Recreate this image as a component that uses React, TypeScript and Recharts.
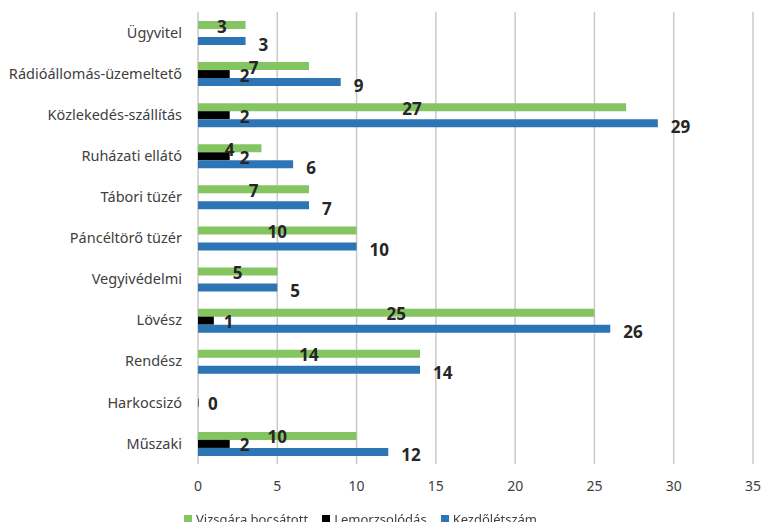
import { BarChart, Bar, XAxis, YAxis, CartesianGrid, Legend, LabelList } from 'recharts';

const categories = [
  'Ügyvitel',
  'Rádióállomás-üzemeltető',
  'Közlekedés-szállítás',
  'Ruházati ellátó',
  'Tábori tüzér',
  'Páncéltörő tüzér',
  'Vegyivédelmi',
  'Lövész',
  'Rendész',
  'Harkocsizó',
  'Műszaki',
];
const vizsgara = [3, 7, 27, 4, 7, 10, 5, 25, 14, null, 10];
const lemorzsolodas = [null, 2, 2, 2, null, null, null, 1, null, 0, 2];
const kezdo = [3, 9, 29, 6, 7, 10, 5, 26, 14, null, 12];
const xTicks = [0, 5, 10, 15, 20, 25, 30, 35];
const seriesNames = ['Vizsgára bocsátott', 'Lemorzsolódás', 'Kezdőlétszám'];

const data = categories.map((name, i) => ({
  name,
  vizsgara: vizsgara[i],
  lemorzsolodas: lemorzsolodas[i],
  kezdo: kezdo[i],
}));

const labelFont = { fill: '#262626', fontSize: 17, fontWeight: 700, fontFamily: 'Open Sans' };

// draws the value as text next to / on the bar, also for 0
const makeLabel = (pos: 'center' | 'right', offset: number, dy: number) => (props: any) => {
  const { x, y, width, height, value } = props;
  if (value === null || value === undefined) return null;
  const w = value === 0 ? 0 : Number(width);
  const cx = pos === 'center' ? Number(x) + w / 2 : Number(x) + w + offset;
  return (
    <text
      x={cx}
      y={Number(y) + Number(height) / 2 + dy}
      textAnchor={pos === 'center' ? 'middle' : 'start'}
      dominantBaseline="central"
      {...labelFont}
    >
      {value}
    </text>
  );
};

const renderLegend = (props: any) => {
  const items = [...(props.payload || [])].sort(
    (a: any, b: any) => seriesNames.indexOf(a.value) - seriesNames.indexOf(b.value)
  );
  return (
    <div style={{ display: 'flex', gap: 14, fontFamily: 'Noto Sans', fontSize: 13, color: '#404040' }}>
      {items.map((it: any) => (
        <div key={it.value} style={{ display: 'flex', alignItems: 'center' }}>
          <span style={{ width: 8, height: 8, background: it.color, marginRight: 4 }} />
          <span>{it.value}</span>
        </div>
      ))}
    </div>
  );
};

export default function App() {
  return (
    <div style={{ position: 'fixed', left: 0, top: 0, width: 765, height: 522, background: '#fff' }}>
      <BarChart
        width={765}
        height={530}
        data={data}
        layout="vertical"
        margin={{ top: 12, right: 12, left: 0, bottom: 0 }}
        barGap={0}
      >
        <CartesianGrid horizontal={false} stroke="#c9c9c9" strokeWidth={1.5} />
        <XAxis
          type="number"
          domain={[0, 35]}
          ticks={xTicks}
          tickLine={false}
          axisLine={false}
          tickMargin={11}
          height={48}
          tick={{ fill: '#404040', fontSize: 14, fontFamily: 'Noto Sans' }}
        />
        <YAxis
          type="category"
          dataKey="name"
          width={198}
          tickLine={false}
          axisLine={false}
          tickMargin={10}
          interval={0}
          tick={{ fill: '#404040', fontSize: 14.5, fontFamily: 'Noto Sans' }}
        />
        <Legend
          verticalAlign="bottom"
          align="left"
          content={renderLegend}
          wrapperStyle={{ left: 184, bottom: 2 }}
        />
        <Bar dataKey="vizsgara" name={seriesNames[0]} fill="#84c461" barSize={8} isAnimationActive={false}>
          <LabelList dataKey="vizsgara" content={makeLabel('center', 0, 1)} />
        </Bar>
        <Bar
          dataKey="lemorzsolodas"
          name={seriesNames[1]}
          fill="#000000"
          barSize={8}
          minPointSize={0.5}
          isAnimationActive={false}
        >
          <LabelList dataKey="lemorzsolodas" content={makeLabel('right', 10, 1)} />
        </Bar>
        <Bar dataKey="kezdo" name={seriesNames[2]} fill="#2e75b6" barSize={8} isAnimationActive={false}>
          <LabelList dataKey="kezdo" content={makeLabel('right', 13, 3)} />
        </Bar>
      </BarChart>
    </div>
  );
}
